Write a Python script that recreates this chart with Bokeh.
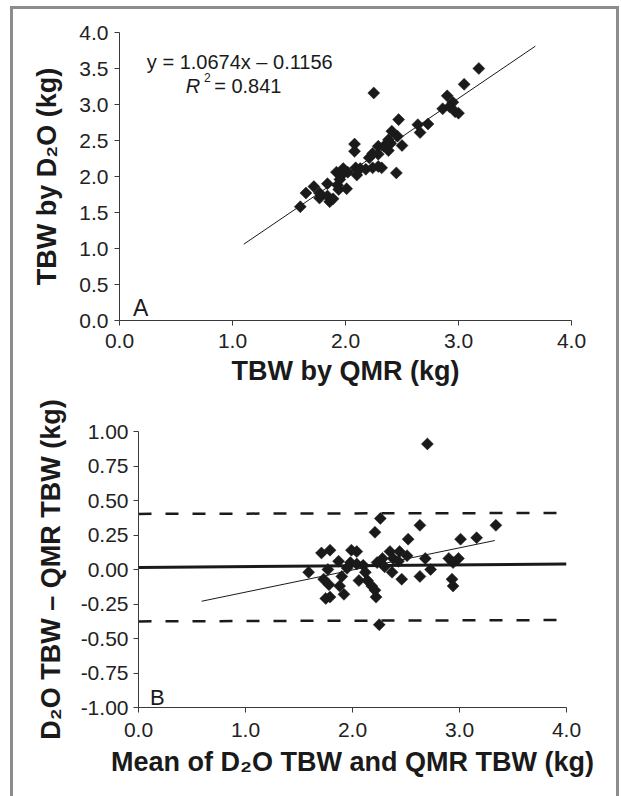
from bokeh.plotting import figure
from bokeh.layouts import column
from bokeh.models import Range1d, FixedTicker, PrintfTickFormatter, Label, ColumnDataSource
from bokeh.embed import file_html
from bokeh.resources import INLINE
import math

# ---------------- data ----------------
# Panel A: TBW by QMR (x) vs TBW by D2O (y), kg
qmr_tbw = [1.60, 1.65, 1.77, 1.77, 1.72, 1.84, 1.86, 1.89, 1.84, 1.93, 1.94, 2.01, 1.92,
           1.98, 1.96, 2.02, 2.09, 2.13, 2.10, 2.18, 2.24, 2.29, 2.32, 2.21, 2.24, 2.29,
           2.34, 2.38, 2.40, 2.46, 2.38, 2.50, 2.66, 2.64, 2.73, 2.86, 2.95, 2.92, 2.97,
           3.00, 2.45, 2.08, 2.08, 2.47, 2.41, 2.90, 3.05, 3.18, 2.25, 2.29, 1.95]
d2o_tbw = [1.58, 1.77, 1.70, 1.77, 1.86, 1.73, 1.65, 1.69, 1.90, 1.88, 1.82, 1.83, 2.06,
           2.11, 2.01, 2.06, 2.12, 2.11, 2.02, 2.10, 2.12, 2.14, 2.12, 2.26, 2.32, 2.42,
           2.42, 2.51, 2.46, 2.56, 2.36, 2.43, 2.61, 2.72, 2.73, 2.94, 3.03, 2.97, 2.90,
           2.88, 2.05, 2.45, 2.35, 2.79, 2.63, 3.12, 3.28, 3.50, 3.16, 2.31, 1.96]
fit_a_x = [1.10, 3.68]
fit_a_y = [1.06, 3.81]
a_equation = "y = 1.0674x \u2013 0.1156"
a_r2_value = "= 0.841"

# Panel B: Bland-Altman, mean (x) vs difference D2O - QMR (y), kg
ba_mean = [1.59, 1.71, 1.73, 1.77, 1.79, 1.78, 1.75, 1.79, 1.87, 1.90, 1.88, 1.92, 1.99,
           2.04, 1.98, 2.04, 2.10, 2.12, 2.06, 2.14, 2.18, 2.21, 2.22, 2.23, 2.28, 2.35,
           2.38, 2.44, 2.43, 2.51, 2.37, 2.46, 2.63, 2.68, 2.73, 2.90, 2.99, 2.94, 2.93,
           2.94, 2.25, 2.26, 2.21, 2.63, 2.52, 3.01, 3.16, 3.34, 2.70, 2.30, 1.95]
ba_diff = [-0.02, 0.12, -0.07, 0.00, 0.14, -0.11, -0.21, -0.20, 0.06, -0.05, -0.12, -0.18, 0.14,
           0.13, 0.05, 0.04, 0.03, -0.02, -0.08, -0.08, -0.12, -0.15, -0.20, 0.05, 0.08, 0.13,
           0.08, 0.13, 0.06, 0.10, -0.02, -0.07, -0.05, 0.08, 0.00, 0.08, 0.08, 0.05, -0.07,
           -0.12, -0.40, 0.37, 0.27, 0.32, 0.22, 0.22, 0.23, 0.32, 0.91, 0.02, 0.01]
bias_x = [0.0, 4.0]
bias_y = [0.015, 0.04]
upper_loa_y = [0.403, 0.41]
lower_loa_y = [-0.376, -0.366]
fit_b_x = [0.59, 3.33]
fit_b_y = [-0.23, 0.21]

# ticks
a_xticks = [0.0, 1.0, 2.0, 3.0, 4.0]
a_xtick_labels = ["0.0", "1.0", "2.0", "3.0", "4.0"]
a_yticks = [0.0, 0.5, 1.0, 1.5, 2.0, 2.5, 3.0, 3.5, 4.0]
a_ytick_labels = ["0.0", "0.5", "1.0", "1.5", "2.0", "2.5", "3.0", "3.5", "4.0"]
b_xticks = [0.0, 1.0, 2.0, 3.0, 4.0]
b_xtick_labels = ["0.0", "1.0", "2.0", "3.0", "4.0"]
b_yticks = [-1.0, -0.75, -0.5, -0.25, 0.0, 0.25, 0.5, 0.75, 1.0]
b_ytick_labels = ["-1.00", "-0.75", "-0.50", "-0.25", "0.00", "0.25", "0.50", "0.75", "1.00"]

a_xlabel = "TBW by QMR (kg)"
a_ylabel = "TBW by D\u2082O (kg)"
b_xlabel = "Mean of D\u2082O TBW and QMR TBW (kg)"
b_ylabel = "D\u2082O TBW \u2013 QMR TBW (kg)"

# ---------------- style ----------------
FONT = "Liberation Sans"
INK = "#1a1a1a"
AXIS = "#3a3a3a"
FRAME = "3px solid #8c8c8c"


def style_axis(ax, ticks, labels, fmt, label_standoff, axis_label_standoff):
    ax.ticker = FixedTicker(ticks=ticks)
    ax.formatter = PrintfTickFormatter(format=fmt)
    ax.major_label_overrides = dict(zip(ticks, labels))
    ax.minor_tick_line_color = None
    ax.major_tick_in = 0
    ax.major_tick_out = 5
    ax.axis_line_color = AXIS
    ax.major_tick_line_color = AXIS
    ax.axis_line_width = 1
    ax.major_label_text_font = FONT
    ax.major_label_text_font_size = "21px"
    ax.major_label_text_color = "#222222"
    ax.major_label_standoff = label_standoff
    ax.axis_label_text_font = FONT
    ax.axis_label_text_font_size = "27px"
    ax.axis_label_text_font_style = "bold"
    ax.axis_label_text_color = "#1a1a1a"
    ax.axis_label_standoff = axis_label_standoff


def base_fig(w, h, xr, yr, bl, br, bt, bb):
    p = figure(width=w, height=h, x_range=Range1d(*xr), y_range=Range1d(*yr),
               output_backend="svg", toolbar_location=None,
               min_border_left=bl, min_border_right=br, min_border_top=bt, min_border_bottom=bb)
    p.outline_line_color = None
    p.grid.visible = False
    p.background_fill_color = "white"
    p.border_fill_color = "white"
    return p


# ---------------- panel A ----------------
pA = base_fig(603, 391, (0, 4), (0, 4), 106, 45, 23, 80)
srcA = ColumnDataSource(dict(x=qmr_tbw, y=d2o_tbw))
pA.line(fit_a_x, fit_a_y, line_color=INK, line_width=1)
pA.scatter("x", "y", source=srcA, marker="square", size=8.5, angle=math.pi / 4,
           fill_color=INK, line_color=INK, line_width=0.5)
pA.xaxis.axis_label = a_xlabel
pA.yaxis.axis_label = a_ylabel
style_axis(pA.xaxis[0], a_xticks, a_xtick_labels, "%.1f", 8, 5)
style_axis(pA.yaxis[0], a_yticks, a_ytick_labels, "%.1f", 6, 14)

pA.add_layout(Label(x=0.242, y=3.593, text=a_equation, text_font=FONT, text_font_size="20px",
                    text_color=INK, text_baseline="alphabetic"))
pA.add_layout(Label(x=0.587, y=3.255, text="R", text_font=FONT, text_font_size="20px",
                    text_font_style="italic", text_color=INK, text_baseline="alphabetic"))
pA.add_layout(Label(x=0.748, y=3.37, text="2", text_font=FONT, text_font_size="12px",
                    text_color=INK, text_baseline="alphabetic"))
pA.add_layout(Label(x=0.838, y=3.255, text=a_r2_value, text_font=FONT, text_font_size="20px",
                    text_color=INK, text_baseline="alphabetic"))
pA.add_layout(Label(x=0.12, y=0.167, text="A", text_font=FONT, text_font_size="23px",
                    text_color=INK, text_baseline="alphabetic"))

# ---------------- panel B ----------------
pB = base_fig(603, 396, (0, 4), (-1, 1), 125, 50, 31, 89)
srcB = ColumnDataSource(dict(x=ba_mean, y=ba_diff))
pB.line(bias_x, upper_loa_y, line_color=INK, line_width=2.5, line_dash="13 14")
pB.line(bias_x, lower_loa_y, line_color=INK, line_width=2.5, line_dash="13 14")
pB.line(bias_x, bias_y, line_color=INK, line_width=3)
pB.line(fit_b_x, fit_b_y, line_color=INK, line_width=1)
pB.scatter("x", "y", source=srcB, marker="square", size=8.5, angle=math.pi / 4,
           fill_color=INK, line_color=INK, line_width=0.5)
pB.xaxis.axis_label = b_xlabel
pB.yaxis.axis_label = b_ylabel
style_axis(pB.xaxis[0], b_xticks, b_xtick_labels, "%.1f", 10, 7)
style_axis(pB.yaxis[0], b_yticks, b_ytick_labels, "%.2f", 5, 12)
pB.add_layout(Label(x=0.108, y=-0.927, text="B", text_font=FONT, text_font_size="22px",
                    text_color=INK, text_baseline="alphabetic"))

# separate roots so the two plot frames are not aligned with each other
rootA = column(pA, margin=(6, 0, 0, 10),
               styles={"border-top": FRAME, "border-left": FRAME, "border-right": FRAME,
                       "background": "white"})
rootB = column(pB, margin=(0, 0, 0, 10),
               styles={"border-left": FRAME, "border-right": FRAME, "background": "white"})

open("out.html", "w").write(file_html([rootA, rootB], INLINE))
